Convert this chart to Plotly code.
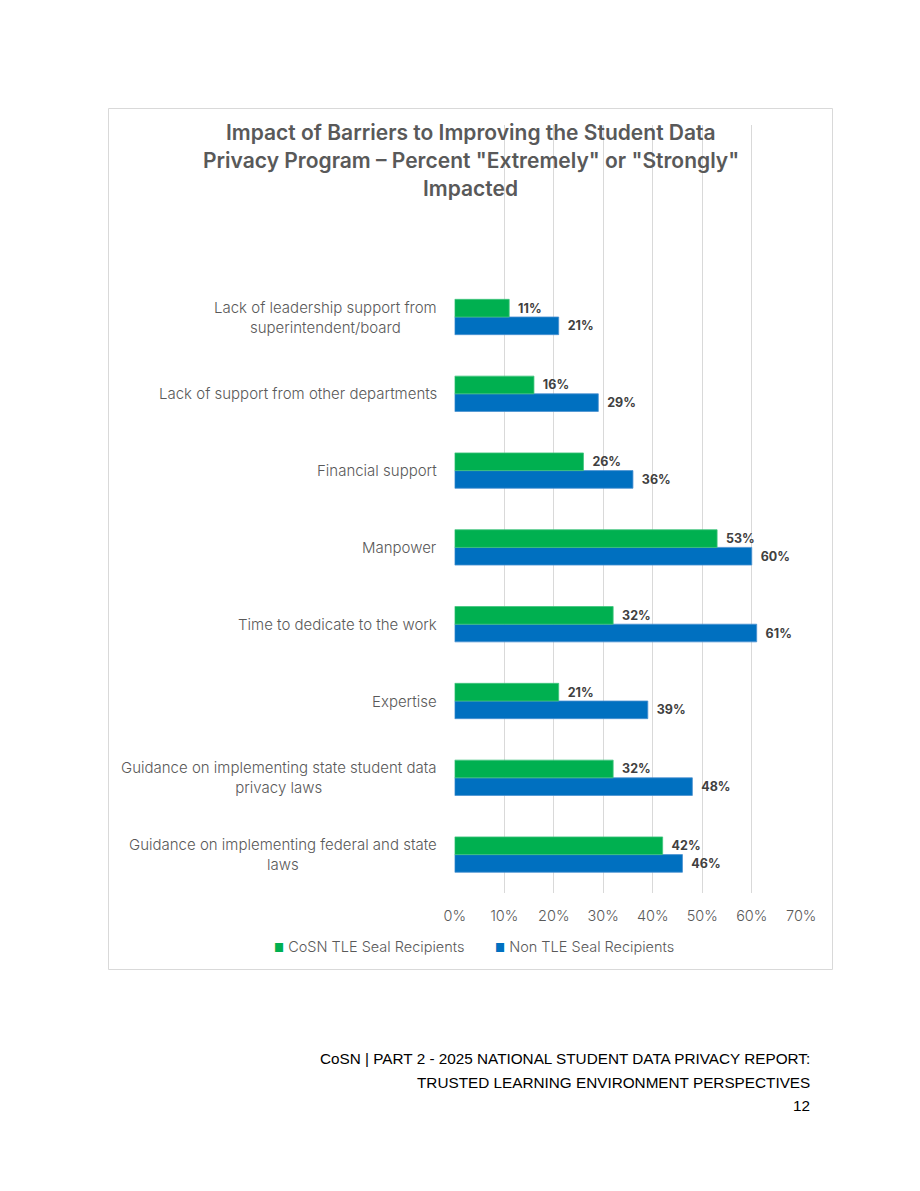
import plotly.graph_objects as go

W, H = 920, 1191

categories = [
    "Guidance on implementing federal and state<br>laws",
    "Guidance on implementing state student data<br>privacy laws",
    "Expertise",
    "Time to dedicate to the work",
    "Manpower",
    "Financial support",
    "Lack of support from other departments",
    "Lack of leadership support from<br>superintendent/board",
]
cosn_tle = [42, 32, 21, 32, 53, 26, 16, 11]
non_tle = [46, 48, 39, 61, 60, 36, 29, 21]
x_ticks = [0, 10, 20, 30, 40, 50, 60, 70]
x_tick_labels = ["0%", "10%", "20%", "30%", "40%", "50%", "60%", "70%"]
series_names = ["CoSN TLE Seal Recipients", "Non TLE Seal Recipients"]
title_lines = [
    "Impact of Barriers to Improving the Student Data",
    "Privacy Program – Percent \"Extremely\" or \"Strongly\"",
    "Impacted",
]
footer_lines = [
    "CoSN | PART 2 - 2025 NATIONAL STUDENT DATA PRIVACY REPORT:",
    "TRUSTED LEARNING ENVIRONMENT PERSPECTIVES",
    "12",
]

GREEN = "#00B050"
BLUE = "#0070C0"
TXT = "#595959"
FONT = "Inter"
NB = "\u00a0\u00a0"


def px_x(p):
    return p / W


def px_y(p):
    return 1 - p / H


ypos = list(range(len(categories)))

fig = go.Figure()
fig.add_trace(go.Bar(
    y=ypos, x=non_tle, orientation="h", name=series_names[1],
    marker=dict(color=BLUE, line=dict(color="#4A90D0", width=0.8)),
    text=[f"{NB}{v}%" for v in non_tle], textposition="outside",
    textfont=dict(family=FONT, size=12.5, color="#404040", weight="bold"),
    cliponaxis=False, showlegend=False,
))
fig.add_trace(go.Bar(
    y=ypos, x=cosn_tle, orientation="h", name=series_names[0],
    marker=dict(color=GREEN, line=dict(color="#40C47C", width=0.8)),
    text=[f"{NB}{v}%" for v in cosn_tle], textposition="outside",
    textfont=dict(family=FONT, size=12.5, color="#404040", weight="bold"),
    cliponaxis=False, showlegend=False,
))

annotations = []
for i, c in enumerate(categories):
    annotations.append(dict(
        x=px_x(439), xref="paper", y=i, yref="y", text=c, showarrow=False,
        xanchor="right", yanchor="middle", align="center",
        font=dict(family=FONT, size=15, color=TXT, weight=300),
    ))

for k, (ln, yy) in enumerate(zip(title_lines, [133, 160.5, 188])):
    annotations.append(dict(
        x=px_x(470.5), xref="paper", y=px_y(yy), yref="paper", text=ln,
        showarrow=False, xanchor="center", yanchor="middle",
        font=dict(family=FONT, size=21, color=TXT, weight=600),
    ))

for ln, yy in zip(footer_lines, [1058, 1082, 1105]):
    annotations.append(dict(
        x=px_x(811.5), xref="paper", y=px_y(yy), yref="paper", text=ln,
        showarrow=False, xanchor="right", yanchor="middle",
        font=dict(family="Liberation Sans", size=15.3, color="#000000"),
    ))

# legend drawn as text with coloured squares
for name, col, xl in [(series_names[0], GREEN, 272), (series_names[1], BLUE, 493)]:
    annotations.append(dict(
        x=px_x(xl), xref="paper", y=px_y(946.5), yref="paper",
        text=f"<span style='color:{col};font-size:11px'>■</span> {name}",
        showarrow=False, xanchor="left", yanchor="middle",
        font=dict(family=FONT, size=14.5, color=TXT, weight=300),
    ))

fig.update_layout(
    width=W, height=H, autosize=False,
    margin=dict(l=0, r=0, t=0, b=0, pad=0, autoexpand=False),
    paper_bgcolor="white", plot_bgcolor="white",
    barmode="group", bargap=0.54, bargroupgap=0,
    showlegend=False,
    xaxis=dict(
        domain=[px_x(454.5), px_x(801.5)], range=[-0.05, 70.05],
        tickvals=x_ticks, ticktext=x_tick_labels,
        showgrid=True, gridcolor="#D9D9D9", gridwidth=1,
        zeroline=False, showline=False, ticks="", automargin=False,
        tickfont=dict(family=FONT, size=14.5, color=TXT, weight=300),
        ticklabelstandoff=12,
    ),
    yaxis=dict(
        domain=[px_y(893), px_y(125)], range=[-0.5, 9.5], automargin=False,
        showticklabels=False, showgrid=False, zeroline=False, showline=False, ticks="",
    ),
    annotations=annotations,
    shapes=[dict(type="rect", xref="paper", yref="paper",
                 x0=px_x(108.5), x1=px_x(832.5), y0=px_y(969.5), y1=px_y(108.5),
                 line=dict(color="#D9D9D9", width=1), layer="below")],
)

fig.write_html("out.html", config={"responsive": False})
